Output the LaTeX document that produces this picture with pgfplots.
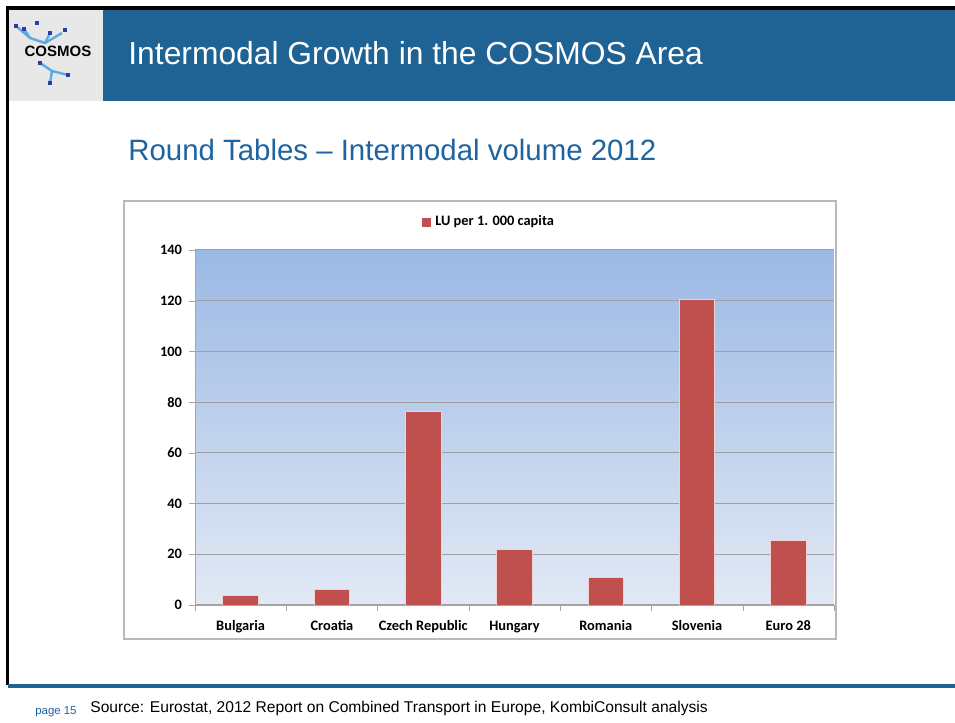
\documentclass[border=0pt]{standalone}
\usepackage{fontspec}
\setmainfont{Liberation Sans}
\newfontfamily\calib{Carlito}
\usepackage{pgfplots}
\pgfplotsset{compat=1.18}

\definecolor{slideblue}{RGB}{31,99,149}
\definecolor{titleblue}{RGB}{31,99,160}
\definecolor{barred}{RGB}{192,80,77}
\definecolor{bgtop}{RGB}{155,185,228}
\definecolor{bgbot}{RGB}{226,233,245}
\definecolor{logoblue}{RGB}{90,170,230}
\definecolor{logodark}{RGB}{40,60,170}

\begin{document}
\begin{tikzpicture}[x=0.5pt,y=0.5pt]
\useasboundingbox (0,0) rectangle (955,723);
\fill[white] (0,0) rectangle (955,723);
% frame lines
\fill[black] (6,38) rectangle (9,717);
\fill[black] (6,713) rectangle (955,717);
% header
\fill[slideblue] (103,622) rectangle (955,713);
\fill[gray!18] (9,622) rectangle (103,713);
% logo network
\draw[logoblue,line width=1.2pt] (16,697) -- (30,685) -- (45,680) -- (62,690);
\draw[logoblue,line width=1.2pt] (30,685) -- (24,694);
\draw[logoblue,line width=1.2pt] (45,680) -- (50,690);
\draw[logoblue,line width=1.2pt] (40,660) -- (52,652) -- (68,648);
\draw[logoblue,line width=1.2pt] (52,652) -- (50,640);
\foreach \p in {(16,697),(37,700),(24,694),(50,690),(65,693),(68,648),(50,640),(40,660)}
  \fill[logodark] \p ++(-2,-2) rectangle ++(4,4);
\node[font=\bfseries\fontsize{7.5}{8}\selectfont,text=black] at (58,672) {COSMOS};
% titles
\node[anchor=west,text=white,font=\fontsize{15.9}{18}\selectfont,inner sep=0pt] at (128,670) {Intermodal Growth in the COSMOS Area};
\node[anchor=west,text=titleblue,font=\fontsize{14.7}{17}\selectfont,inner sep=0pt] at (128,573) {Round Tables -- Intermodal volume 2012};
% chart frame
\draw[gray!55,line width=0.6pt] (124,84) rectangle (836,522);
% bottom line and footer
\fill[slideblue] (8,35) rectangle (955,39);
\node[anchor=west,text=titleblue,font=\fontsize{5.7}{7}\selectfont,inner sep=0pt] at (35,11) {page 15};
\node[anchor=west,text=black,font=\fontsize{7.8}{9}\selectfont,inner sep=0pt] at (90,15) {Source: Eurostat, 2012 Report on Combined Transport in Europe, KombiConsult analysis};

\begin{axis}[
  at={(97.5pt,59pt)}, anchor=south west,
  scale only axis, width=319.5pt, height=177.5pt,
  xmin=-0.5, xmax=6.5, ymin=0, ymax=140,
  ytick={0,20,...,140},
  xtick={0,...,6},
  xticklabels={Bulgaria,Croatia,Czech Republic,Hungary,Romania,Slovenia,Euro 28},
  minor xtick={-0.5,0.5,...,6.5},
  major x tick style={draw=none},
  minor x tick style={gray!70},
  minor tick length=3pt,
  major tick length=3pt,
  tick align=outside,
  axis x line*=bottom, axis y line*=left,
  axis line style={gray!70,-},
  ymajorgrids, grid style={gray!75,line width=0.5pt},
  axis background/.style={top color=bgtop,bottom color=bgbot},
  ticklabel style={font=\calib\bfseries\fontsize{7.2}{8}\selectfont},
  /pgf/number format/assume math mode=true,
  ytick style={gray!70},
  xticklabel style={text height=1.5ex,text depth=0.3ex,yshift=1.5pt},
  ybar, bar width=17.75pt,
  legend style={at={(0.462,1)},anchor=center,yshift=14pt,draw=none,fill=none,
     font=\calib\bfseries\fontsize{7.2}{8}\selectfont},
  legend image code/.code={\fill[barred] (0pt,-2pt) rectangle (4pt,2pt);},
]
\addplot[fill=barred,draw=white!75!barred,line width=0.4pt] coordinates {
 (0,3.9) (1,6.0) (2,76.5) (3,21.8) (4,11.0) (5,120.4) (6,25.4)};
\addlegendentry{LU per 1. 000 capita}
\end{axis}
\end{tikzpicture}
\end{document}
